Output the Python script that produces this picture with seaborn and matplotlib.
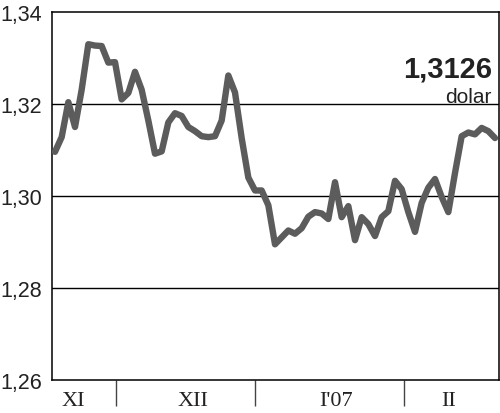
import seaborn as sns
import matplotlib.pyplot as plt
import pandas as pd

# EUR/PLN-style daily quotes, Nov 2006 - Feb 2007 (trading day index)
kurs = [
    1.3096, 1.3128, 1.3204, 1.3150, 1.3231, 1.3330, 1.3327, 1.3326, 1.3290, 1.3291,
    1.3210, 1.3224, 1.3270, 1.3231, 1.3164, 1.3092, 1.3097, 1.3160, 1.3180, 1.3174,
    1.3150, 1.3141, 1.3130, 1.3128, 1.3130, 1.3164, 1.3262, 1.3225, 1.3126, 1.3040,
    1.3012, 1.3012, 1.2980, 1.2895, 1.2910, 1.2925, 1.2918, 1.2930, 1.2955, 1.2965,
    1.2962, 1.2950, 1.3030, 1.2954, 1.2978, 1.2904, 1.2954, 1.2939, 1.2913, 1.2954,
    1.2967, 1.3033, 1.3015, 1.2965, 1.2922, 1.2985, 1.3018, 1.3037, 1.2998, 1.2965,
    1.3050, 1.3130, 1.3138, 1.3134, 1.3148, 1.3141, 1.3126,
]
month_labels = ["XI", "XII", "I'07", "II"]
month_centers = [2.7, 20.7, 42.1, 59.1]
month_bounds = [9.15, 30.0, 52.3]
y_ticks = [1.26, 1.28, 1.30, 1.32, 1.34]
last_value = "1,3126"
unit = "dolar"

df = pd.DataFrame({"dzien": range(len(kurs)), "kurs": kurs})

sns.set_style("white")
plt.rcParams["font.family"] = ["Liberation Sans", "DejaVu Sans"]

fig = plt.figure(figsize=(5, 4.14), dpi=100)
ax = fig.add_axes([0.104, 0.0797, 0.894, 0.8889])

sns.lineplot(data=df, x="dzien", y="kurs", ax=ax, color="#5c5c5c",
             linewidth=4.6, solid_capstyle="round", solid_joinstyle="round",
             zorder=3)

ax.set_xlim(-0.45, 66.6)
ax.set_ylim(1.26, 1.34)

for y in y_ticks[1:-1]:
    ax.axhline(y, color="black", linewidth=1.0, zorder=1)

for s in ax.spines.values():
    s.set_color("black")
    s.set_linewidth(1.1)

ax.set_yticks(y_ticks)
ax.set_yticklabels([f"{v:.2f}".replace(".", ",") for v in y_ticks],
                   fontsize=15.5, ha="left", color="#222222")
ax.tick_params(axis="y", length=0, pad=37)

ax.set_xticks(month_centers)
ax.set_xticklabels(month_labels, fontsize=16, family="Liberation Serif",
                   color="#222222")
ax.set_xticks(month_bounds, minor=True)
ax.tick_params(axis="x", which="major", length=0, pad=8)
ax.tick_params(axis="x", which="minor", bottom=True, length=19, width=1.0,
               color="#444444", direction="out")

ax.set_xlabel("")
ax.set_ylabel("")

ax.text(0.985, 0.826, last_value, transform=ax.transAxes, ha="right",
        va="baseline", fontsize=21, fontweight="bold", color="#222222")
ax.text(0.983, 0.755, unit, transform=ax.transAxes, ha="right",
        va="baseline", fontsize=15, color="#222222")

plt.savefig("out.png", dpi=100)
plt.close()
